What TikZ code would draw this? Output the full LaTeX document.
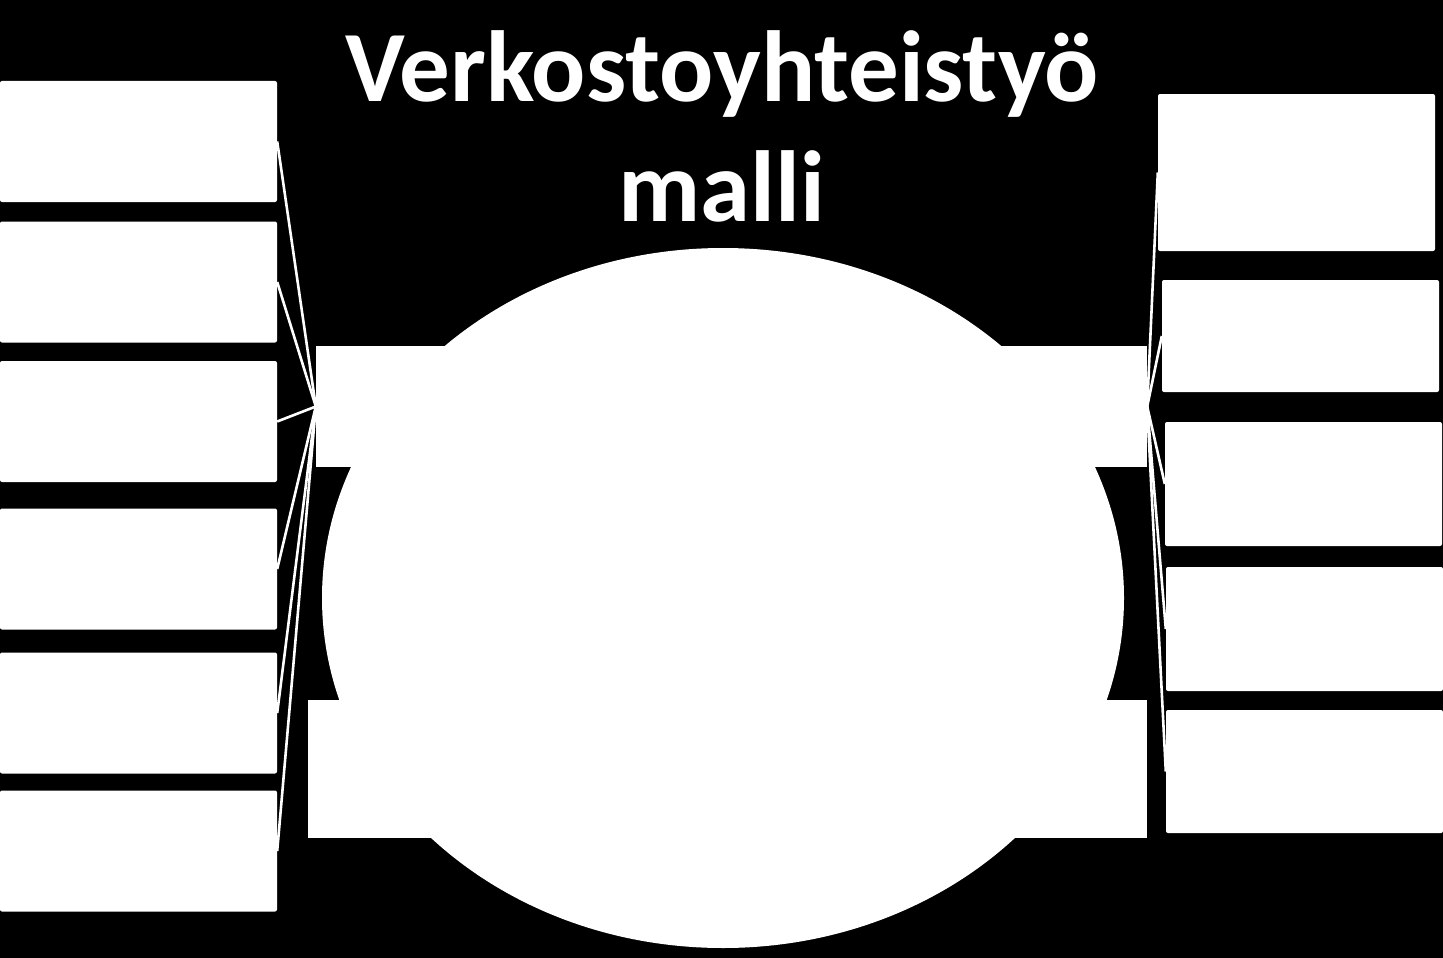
\documentclass[tikz,border=0pt]{standalone}
\usepackage{fontspec}
\setmainfont{Carlito}
\usepackage{tikz}

\tikzset{
  box/.style={fill=white, inner sep=0pt, rounded corners=2pt},
  bar/.style={fill=white, inner sep=0pt},
  link/.style={white, line width=2.6pt},
  titletext/.style={white, anchor=base, font=\bfseries\fontsize{101}{120}\selectfont}
}

\begin{document}
\begin{tikzpicture}[x=1pt, y=-1pt]
\useasboundingbox (0,0) rectangle (1443,958);
\fill[black] (0,0) rectangle (1443,958);
\node[titletext] (title) at (722,101) {Verkostoyhteistyö};
\node[titletext] (title2) at (722,221) {malli};
% the big oval in the middle
\fill[white] (723,598) ellipse[x radius=401, y radius=350];
\node[bar, minimum width=831pt, minimum height=121pt] (top) at (731.5,406.5) {};
\node[bar, minimum width=839pt, minimum height=138pt] (bottom) at (727.5,769) {};
% boxes on the left
\node[box, minimum width=277pt, minimum height=121pt] (l1) at (138.5,141.5) {};
\node[box, minimum width=277pt, minimum height=121pt] (l2) at (138.5,282) {};
\node[box, minimum width=277pt, minimum height=121pt] (l3) at (138.5,421.5) {};
\node[box, minimum width=277pt, minimum height=121pt] (l4) at (138.5,569) {};
\node[box, minimum width=277pt, minimum height=121pt] (l5) at (138.5,713) {};
\node[box, minimum width=277pt, minimum height=121pt] (l6) at (138.5,851) {};
% boxes on the right
\node[box, minimum width=277pt, minimum height=157pt] (r1) at (1296.5,172.5) {};
\node[box, minimum width=277pt, minimum height=112pt] (r2) at (1300.5,336) {};
\node[box, minimum width=277pt, minimum height=124pt] (r3) at (1303.5,484) {};
\node[box, minimum width=277pt, minimum height=124pt] (r4) at (1304.5,629) {};
\node[box, minimum width=277pt, minimum height=123pt] (r5) at (1304.5,771.5) {};
% lines to the top bar
\draw[link] (l1.east) -- (top.west);
\draw[link] (l2.east) -- (top.west);
\draw[link] (l3.east) -- (top.west);
\draw[link] (l4.east) -- (top.west);
\draw[link] (l5.east) -- (top.west);
\draw[link] (l6.east) -- (top.west);
\draw[link] (r1.west) -- (top.east);
\draw[link] (r2.west) -- (top.east);
\draw[link] (r3.west) -- (top.east);
\draw[link] (r4.west) -- (top.east);
\draw[link] (r5.west) -- (top.east);
\end{tikzpicture}
\end{document}
